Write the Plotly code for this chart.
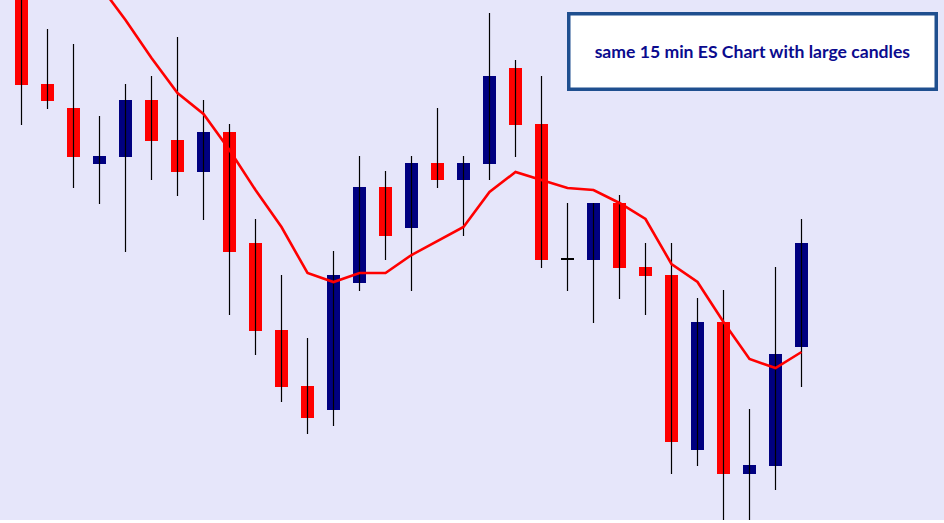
import plotly.graph_objects as go

# Candle data (price levels), one entry per 15-min bar
bar_index = list(range(31))
open_ = [538, 439, 415, 359, 366, 423, 383, 351, 391, 280, 193, 137, 113, 240, 336, 295,
         360, 343, 359, 455, 399, 264, 263, 320, 256, 248, 73, 201, 49, 57, 176]
high = [553, 494, 479, 407, 439, 447, 486, 423, 399, 304, 248, 185, 272, 367, 352, 367,
        415, 367, 510, 463, 447, 320, 320, 328, 280, 280, 225, 233, 114, 256, 304]
low = [398, 414, 335, 319, 271, 343, 327, 303, 208, 168, 121, 89, 97, 232, 263, 232,
       335, 287, 343, 366, 255, 232, 200, 224, 208, 49, 57, 3, 3, 33, 136]
close = [438, 422, 366, 367, 423, 382, 351, 391, 271, 192, 136, 105, 248, 336, 287, 360,
         343, 360, 447, 398, 263, 264, 320, 255, 247, 81, 201, 49, 58, 169, 280]
moving_avg = [None, None, None, 538, 503, 465, 430, 409, 373, 333, 296, 250, 241, 250, 250, 268,
              282, 296, 331, 351, 343, 335, 333, 320, 304, 259, 241, 201, 164, 155, 171]

box_text = "same 15 min ES Chart with large candles"

UP = "#000080"
DOWN = "#ff0000"
DOJI = "#000000"

fig = go.Figure()

# wicks
wx, wy = [], []
for i, h, l in zip(bar_index, high, low):
    wx += [i, i, None]
    wy += [l, h, None]
fig.add_trace(go.Scatter(x=wx, y=wy, mode="lines", line=dict(color="black", width=1.2),
                         hoverinfo="skip", showlegend=False))

# bodies
bases, heights, colors = [], [], []
for o, c in zip(open_, close):
    lo_, hi_ = min(o, c), max(o, c)
    if hi_ - lo_ < 1:
        bases.append(lo_ - 0.5)
        heights.append(1.2)
        colors.append(DOJI)
    else:
        bases.append(lo_)
        heights.append(hi_ - lo_)
        colors.append(UP if c > o else DOWN)
fig.add_trace(go.Bar(x=bar_index, y=heights, base=bases, width=0.5,
                     marker=dict(color=colors, line=dict(width=0)), showlegend=False))

# moving average
fig.add_trace(go.Scatter(x=bar_index, y=moving_avg, mode="lines",
                         line=dict(color="#ff0000", width=2.6), showlegend=False))

fig.add_annotation(
    xref="paper", yref="paper", x=752.5 / 944, y=1 - 51.5 / 520,
    xanchor="center", yanchor="middle",
    text="<b>" + box_text + "</b>", showarrow=False,
    font=dict(family="Lato", size=17.6, color="#0b0b8e"),
    bgcolor="white", bordercolor="#1f4f8f", borderwidth=3.5, borderpad=0,
    width=364, height=72, align="center", valign="middle",
)

fig.update_layout(
    width=944, height=523,
    margin=dict(l=0, r=0, t=0, b=3),
    paper_bgcolor="white", plot_bgcolor="#e6e6fa",
    xaxis=dict(range=[-21.5 / 26, -21.5 / 26 + 944 / 26], visible=False, fixedrange=True),
    yaxis=dict(range=[3, 523], visible=False, fixedrange=True),
    bargap=0,
    showlegend=False,
)

fig.write_html("out.html", config={"displayModeBar": False},
               post_script="document.body.style.margin='0';document.body.style.overflow='hidden';")
